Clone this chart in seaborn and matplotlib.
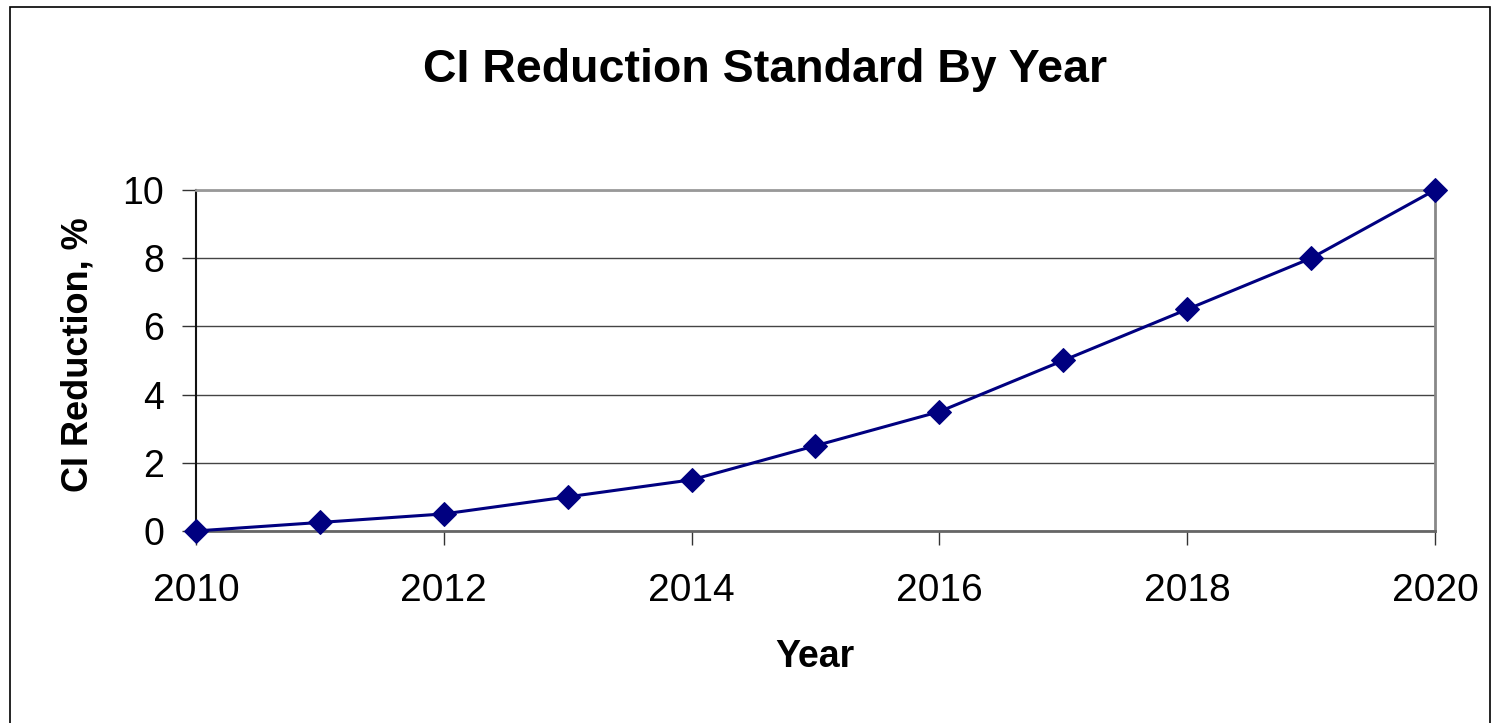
import pandas as pd
import seaborn as sns
import matplotlib.pyplot as plt
from matplotlib.patches import Rectangle

# data
years = [2010, 2011, 2012, 2013, 2014, 2015, 2016, 2017, 2018, 2019, 2020]
reduction = [0, 0.25, 0.5, 1.0, 1.5, 2.5, 3.5, 5.0, 6.5, 8.0, 10.0]
x_ticks = [2010, 2012, 2014, 2016, 2018, 2020]
y_ticks = [0, 2, 4, 6, 8, 10]

df = pd.DataFrame({'Year': years, 'CI Reduction': reduction})

sns.set_style('white')
plt.rcParams['font.family'] = ['Liberation Sans', 'DejaVu Sans']
plt.rcParams['text.color'] = 'black'
plt.rcParams['xtick.color'] = 'black'
plt.rcParams['ytick.color'] = 'black'

fig = plt.figure(figsize=(14.94, 7.23), dpi=100)
ax = fig.add_axes([0.1312, 0.2656, 0.8293, 0.4716])

sns.lineplot(data=df, x='Year', y='CI Reduction', ax=ax, color='#000080',
             marker='D', markersize=12, markeredgecolor='#000080',
             linewidth=2.2, clip_on=False, zorder=5)

ax.set_xlim(2010, 2020)
ax.set_ylim(0, 10)
ax.set_xticks(x_ticks)
ax.set_yticks(y_ticks)
ax.set_xticklabels([str(t) for t in x_ticks], fontsize=28)
ax.set_yticklabels([str(t) for t in y_ticks], fontsize=27)
ax.tick_params(axis='both', direction='out', length=10, width=1, color='#333333',
               labelcolor='black', bottom=True, left=True)
ax.tick_params(axis='x', pad=20)
ax.tick_params(axis='y', pad=13)

# horizontal gridlines only
ax.yaxis.grid(True, color='#444444', linewidth=1)
ax.xaxis.grid(False)

for side in ['top', 'right', 'bottom', 'left']:
    ax.spines[side].set_visible(True)
ax.spines['left'].set_color('#111111')
ax.spines['left'].set_linewidth(1.5)
ax.spines['bottom'].set_color('#666666')
ax.spines['bottom'].set_linewidth(2)
ax.spines['top'].set_color('#999999')
ax.spines['top'].set_linewidth(2)
ax.spines['right'].set_color('#888888')
ax.spines['right'].set_linewidth(2)

ax.set_xlabel('')
ax.set_ylabel('')
fig.text(0.512, 0.903, 'CI Reduction Standard By Year', ha='center', va='center',
         fontsize=33.5, fontweight='bold', color='black')
fig.text(0.052, 0.509, 'CI Reduction, %', ha='center', va='center', rotation=90,
         fontsize=26, fontweight='bold', color='black')
fig.text(0.5455, 0.091, 'Year', ha='center', va='center',
         fontsize=27, fontweight='bold', color='black')

# outer chart frame
fig.patches.append(Rectangle((10 / 1494, -0.01), 1480 / 1494, 1.01 - 7 / 723,
                             transform=fig.transFigure, fill=False,
                             edgecolor='black', linewidth=1.2))

fig.savefig('out.png', dpi=100)
